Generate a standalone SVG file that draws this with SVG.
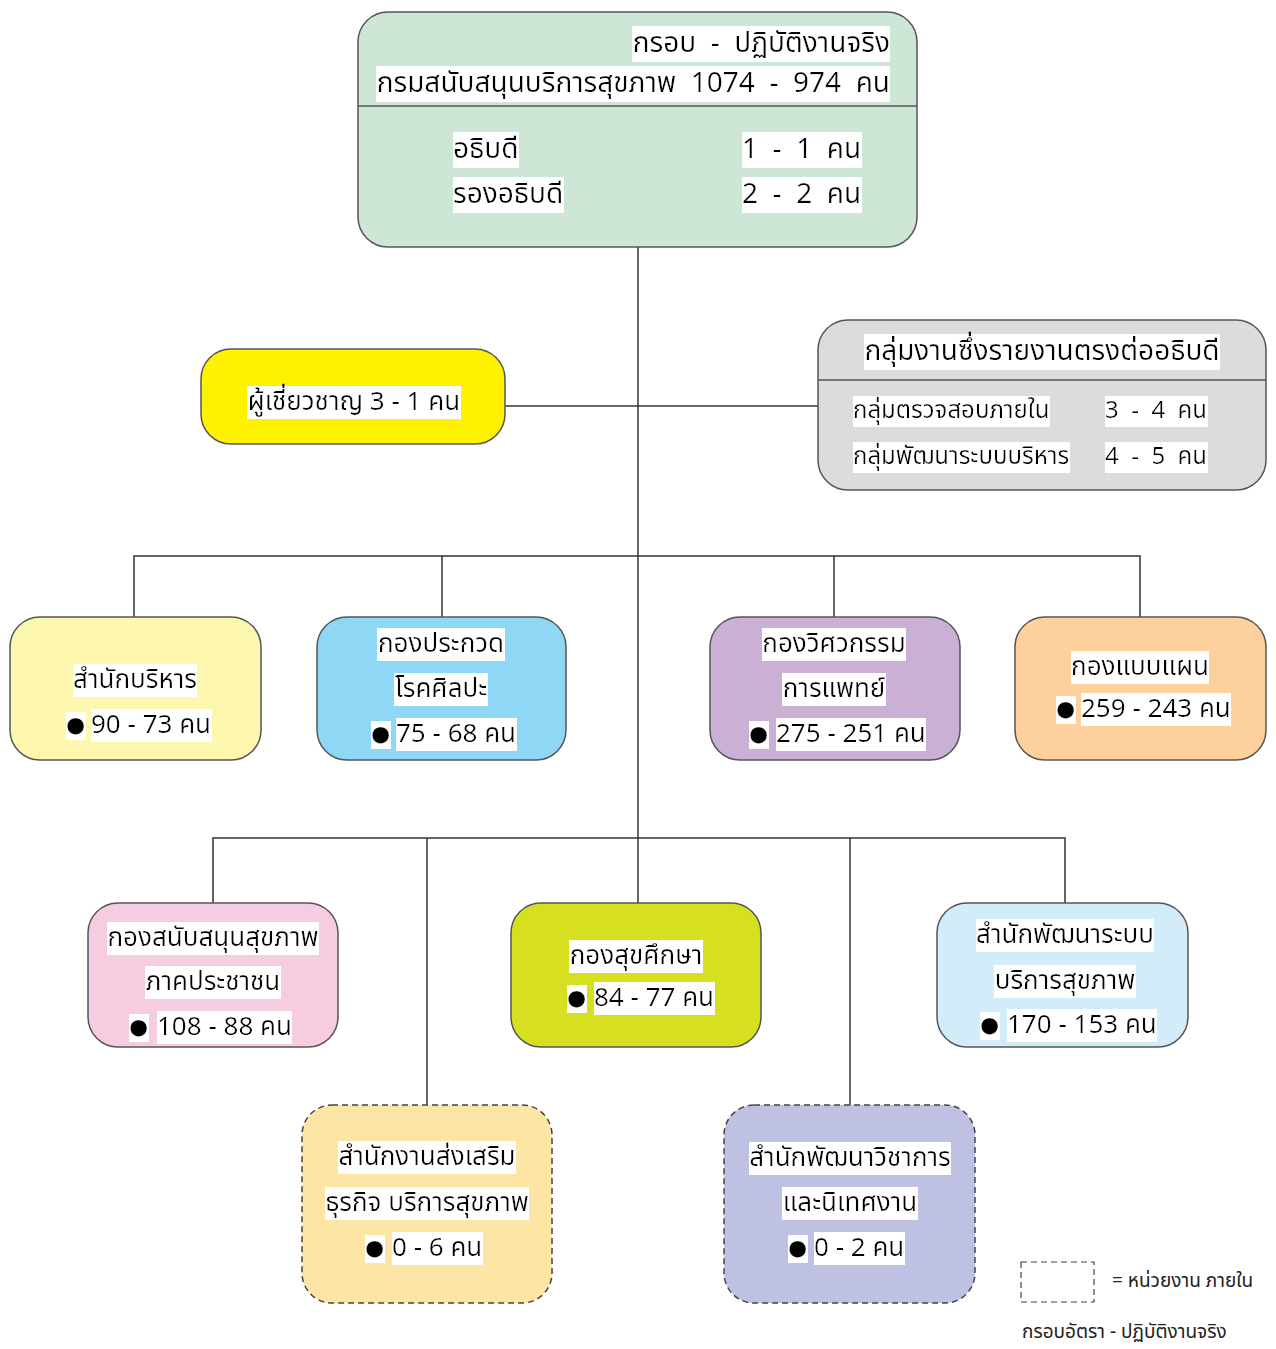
<svg xmlns="http://www.w3.org/2000/svg" width="1276" height="1349" viewBox="0 0 1276 1349">
<defs>
<filter id="bg" x="0" y="0" width="1" height="1" primitiveUnits="objectBoundingBox"><feFlood x="0" y="0.1" width="1" height="0.82" flood-color="#ffffff"/><feComposite in="SourceGraphic" operator="over"/></filter>
</defs>
<style>
text{font-family:"Noto Sans Thai","Noto Sans Thai Looped","Noto Sans","DejaVu Sans",sans-serif;fill:#000;white-space:pre}
.t{font-size:26px;filter:url(#bg)}
.b{font-size:22px;filter:url(#bg)}
.s{font-size:24px;filter:url(#bg)}
.h{font-size:28px;filter:url(#bg)}
.c{text-anchor:middle}
.e{text-anchor:end}
.box{stroke:#555;stroke-width:1.5}
.dash{stroke:#444;stroke-width:1.5;stroke-dasharray:6 4}
.ln{stroke:#333;stroke-width:1.5;fill:none}
.leg{font-size:19px;fill:#222}
</style>
<rect width="1276" height="1349" fill="#fff"/>
<g id="connectors">
<line class="ln" x1="638" y1="247" x2="638" y2="903"/>
<line class="ln" x1="505" y1="406" x2="818" y2="406"/>
<polyline class="ln" points="134,617 134,556 1140,556 1140,617"/>
<line class="ln" x1="442" y1="556" x2="442" y2="617"/>
<line class="ln" x1="834" y1="556" x2="834" y2="617"/>
<polyline class="ln" points="213,903 213,838 1065,838 1065,903"/>
<line class="ln" x1="427" y1="838" x2="427" y2="1105"/>
<line class="ln" x1="850" y1="838" x2="850" y2="1105"/>
</g>
<g id="director">
<rect class="box" x="358" y="12" width="559" height="235" rx="30" fill="#cde6d5"/>
<line class="box" x1="358" y1="106" x2="917" y2="106"/>
<text class="h e" x="890" y="52" xml:space="preserve">กรอบ  -  ปฏิบัติงานจริง</text>
<text class="h e" x="890" y="92" xml:space="preserve">กรมสนับสนุนบริการสุขภาพ  1074  -  974  คน</text>
<text class="h" x="453" y="158">อธิบดี</text>
<text class="h" x="742" y="158" xml:space="preserve">1  -  1  คน</text>
<text class="h" x="453" y="203">รองอธิบดี</text>
<text class="h" x="742" y="203" xml:space="preserve">2  -  2  คน</text>
</g>
<g id="expert">
<rect class="box" x="201" y="349" width="304" height="95" rx="30" fill="#fff200"/>
<text class="t c" x="354" y="410">ผู้เชี่ยวชาญ 3 - 1 คน</text>
</g>
<g id="direct-groups">
<rect class="box" x="818" y="320" width="448" height="170" rx="30" fill="#dcdcdc"/>
<line class="box" x1="818" y1="380" x2="1266" y2="380"/>
<text class="h c" x="1042" y="360">กลุ่มงานซึ่งรายงานตรงต่ออธิบดี</text>
<text class="s" x="853" y="418">กลุ่มตรวจสอบภายใน</text>
<text class="s" x="1105" y="418" xml:space="preserve">3  -  4  คน</text>
<text class="s" x="853" y="464">กลุ่มพัฒนาระบบบริหาร</text>
<text class="s" x="1105" y="464" xml:space="preserve">4  -  5  คน</text>
</g>
<g id="admin">
<rect class="box" x="10" y="617" width="251" height="143" rx="30" fill="#fef7b0"/>
<text class="t c" x="135" y="688">สำนักบริหาร</text>
<text class="b" x="66" y="732">●</text>
<text class="t" x="91" y="733">90 - 73 คน</text>
</g>
<g id="art-of-healing">
<rect class="box" x="317" y="617" width="249" height="143" rx="30" fill="#8fd8f5"/>
<text class="t c" x="441" y="652">กองประกวด</text>
<text class="t c" x="441" y="697">โรคศิลปะ</text>
<text class="b" x="371" y="741">●</text>
<text class="t" x="396" y="742">75 - 68 คน</text>
</g>
<g id="medical-engineering">
<rect class="box" x="710" y="617" width="250" height="143" rx="30" fill="#c9b0d4"/>
<text class="t c" x="834" y="652">กองวิศวกรรม</text>
<text class="t c" x="834" y="697">การแพทย์</text>
<text class="b" x="749" y="741">●</text>
<text class="t" x="776" y="742">275 - 251 คน</text>
</g>
<g id="design">
<rect class="box" x="1015" y="617" width="251" height="143" rx="30" fill="#fdd09c"/>
<text class="t c" x="1140" y="675">กองแบบแผน</text>
<text class="b" x="1056" y="716">●</text>
<text class="t" x="1081" y="717">259 - 243 คน</text>
</g>
<g id="public-health-support">
<rect class="box" x="88" y="903" width="250" height="144" rx="30" fill="#f6cde0"/>
<text class="t c" x="213" y="946">กองสนับสนุนสุขภาพ</text>
<text class="t c" x="213" y="990">ภาคประชาชน</text>
<text class="b" x="129" y="1034">●</text>
<text class="t" x="157" y="1035">108 - 88 คน</text>
</g>
<g id="health-education">
<rect class="box" x="511" y="903" width="250" height="144" rx="30" fill="#d7df21"/>
<text class="t c" x="636" y="964">กองสุขศึกษา</text>
<text class="b" x="567" y="1005">●</text>
<text class="t" x="594" y="1006">84 - 77 คน</text>
</g>
<g id="health-service-system">
<rect class="box" x="937" y="903" width="251" height="144" rx="30" fill="#d2ecf9"/>
<text class="t c" x="1065" y="943">สำนักพัฒนาระบบ</text>
<text class="t c" x="1065" y="989">บริการสุขภาพ</text>
<text class="b" x="980" y="1032">●</text>
<text class="t" x="1007" y="1033">170 - 153 คน</text>
</g>
<g id="health-business">
<rect class="dash" x="302" y="1105" width="250" height="198" rx="30" fill="#fde5a6"/>
<text class="t c" x="427" y="1165">สำนักงานส่งเสริม</text>
<text class="t c" x="427" y="1211">ธุรกิจ บริการสุขภาพ</text>
<text class="b" x="365" y="1255">●</text>
<text class="t" x="392" y="1256">0 - 6 คน</text>
</g>
<g id="academic-supervision">
<rect class="dash" x="724" y="1105" width="251" height="198" rx="30" fill="#bfc1e3"/>
<text class="t c" x="850" y="1166">สำนักพัฒนาวิชาการ</text>
<text class="t c" x="850" y="1211">และนิเทศงาน</text>
<text class="b" x="788" y="1255">●</text>
<text class="t" x="814" y="1256">0 - 2 คน</text>
</g>
<g id="legend">
<rect x="1021" y="1262" width="73" height="40" fill="none" stroke="#444" stroke-width="1.2" stroke-dasharray="6 4"/>
<text class="leg" x="1112" y="1287">= หน่วยงาน ภายใน</text>
<text class="leg" x="1022" y="1338">กรอบอัตรา - ปฏิบัติงานจริง</text>
</g>
</svg>
